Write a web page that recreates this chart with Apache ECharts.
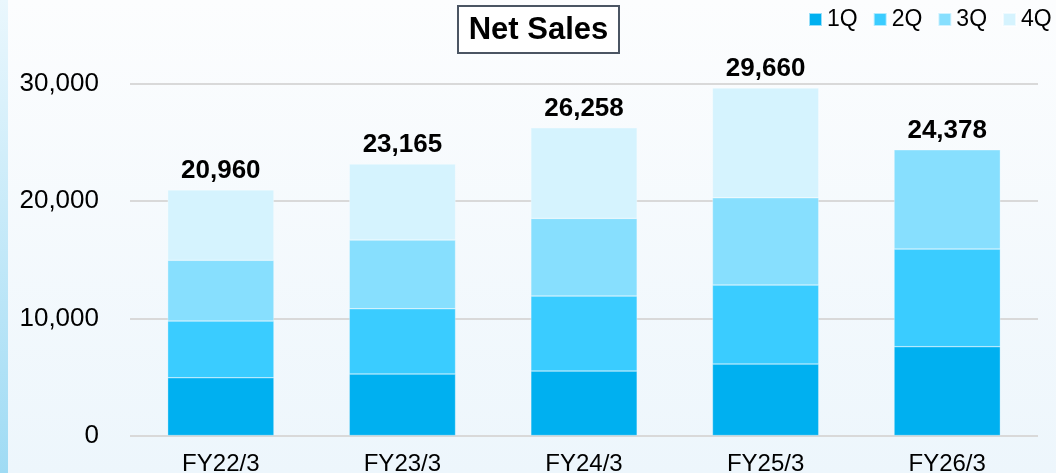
<!DOCTYPE html>
<html>
<head>
<meta charset="utf-8">
<script src="https://cdn.jsdelivr.net/npm/echarts@6/dist/echarts.min.js"></script>
<style>
html,body{margin:0;padding:0;}
#chart{width:1056px;height:473px;}
</style>
</head>
<body>
<div id="chart"></div>
<script>
const categories = ['FY22/3', 'FY23/3', 'FY24/3', 'FY25/3', 'FY26/3'];
const q1 = [4930, 5250, 5500, 6100, 7580];
const q2 = [4840, 5570, 6400, 6740, 8330];
const q3 = [5180, 5860, 6630, 7450, 8468];
const q4 = [6010, 6485, 7728, 9370, null];
const seriesNames = ['1Q', '2Q', '3Q', '4Q'];
const yTicks = [0, 10000, 20000, 30000];
const totals = categories.map((c, i) => (q1[i] || 0) + (q2[i] || 0) + (q3[i] || 0) + (q4[i] || 0));

const colors = ['#00b0f0', '#3accff', '#87dffe', '#d5f3fe'];
const font = '"Liberation Sans", Arial, sans-serif';
const chart = echarts.init(document.getElementById('chart'));

const fmt = v => v.toLocaleString('en-US');

const barSeries = [q1, q2, q3, q4].map((d, i) => ({
  name: seriesNames[i],
  type: 'bar',
  stack: 'total',
  barWidth: '58.5%',
  data: d,
  itemStyle: { color: colors[i], borderColor: 'rgba(255,255,255,0.6)', borderWidth: 0.5 },
  emphasis: { disabled: true }
}));

chart.setOption({
  animation: false,
  backgroundColor: {
    type: 'linear', x: 0, y: 0, x2: 0, y2: 1,
    colorStops: [{ offset: 0, color: '#fcfdfe' }, { offset: 1, color: '#edf6fc' }]
  },
  graphic: [
    {
      type: 'rect', left: 0, top: 0,
      shape: { width: 8, height: 473 },
      style: {
        fill: {
          type: 'linear', x: 0, y: 0, x2: 0, y2: 1,
          colorStops: [{ offset: 0, color: '#eaf7fd' }, { offset: 1, color: '#9fdbf4' }]
        }
      },
      silent: true
    },
    {
      type: 'group', left: 457, top: 5,
      children: [
        {
          type: 'rect',
          shape: { x: 0, y: 0, width: 161, height: 47 },
          style: { fill: '#ffffff', stroke: '#4b5563', lineWidth: 2 }
        },
        {
          type: 'text', x: 80.5, y: 24.5,
          style: {
            text: 'Net Sales', fill: '#000', font: 'bold 31px ' + font,
            align: 'center', verticalAlign: 'middle'
          }
        }
      ]
    }
  ],
  legend: {
    data: seriesNames,
    left: 808, top: 8, padding: 0,
    icon: 'rect', itemWidth: 13, itemHeight: 13, itemGap: 15,
    textStyle: { color: '#000', fontSize: 23, fontFamily: font }
  },
  grid: { left: 130, right: 18, top: 84, bottom: 37.5, outerBoundsMode: 'none', containLabel: false },
  xAxis: {
    type: 'category',
    data: categories,
    axisLine: { show: false },
    axisTick: { show: false },
    axisLabel: { color: '#000', fontSize: 24, fontFamily: font, margin: 17 }
  },
  yAxis: {
    type: 'value',
    min: yTicks[0], max: yTicks[yTicks.length - 1], interval: 10000,
    axisLine: { show: false },
    axisTick: { show: false },
    splitLine: { lineStyle: { color: '#d9d9d9', width: 2 } },
    axisLabel: { color: '#000', fontSize: 26, fontFamily: font, margin: 31, formatter: v => fmt(v) }
  },
  series: barSeries.concat([{
    name: 'Total',
    type: 'line',
    data: totals,
    symbol: 'circle',
    symbolSize: 1,
    itemStyle: { color: 'rgba(0,0,0,0)' },
    lineStyle: { width: 0, opacity: 0 },
    silent: true,
    label: {
      show: true, position: 'top', distance: 6,
      color: '#000', fontSize: 26, fontWeight: 'bold', fontFamily: font,
      formatter: p => fmt(p.value)
    },
    z: 10
  }])
});
</script>
</body>
</html>
